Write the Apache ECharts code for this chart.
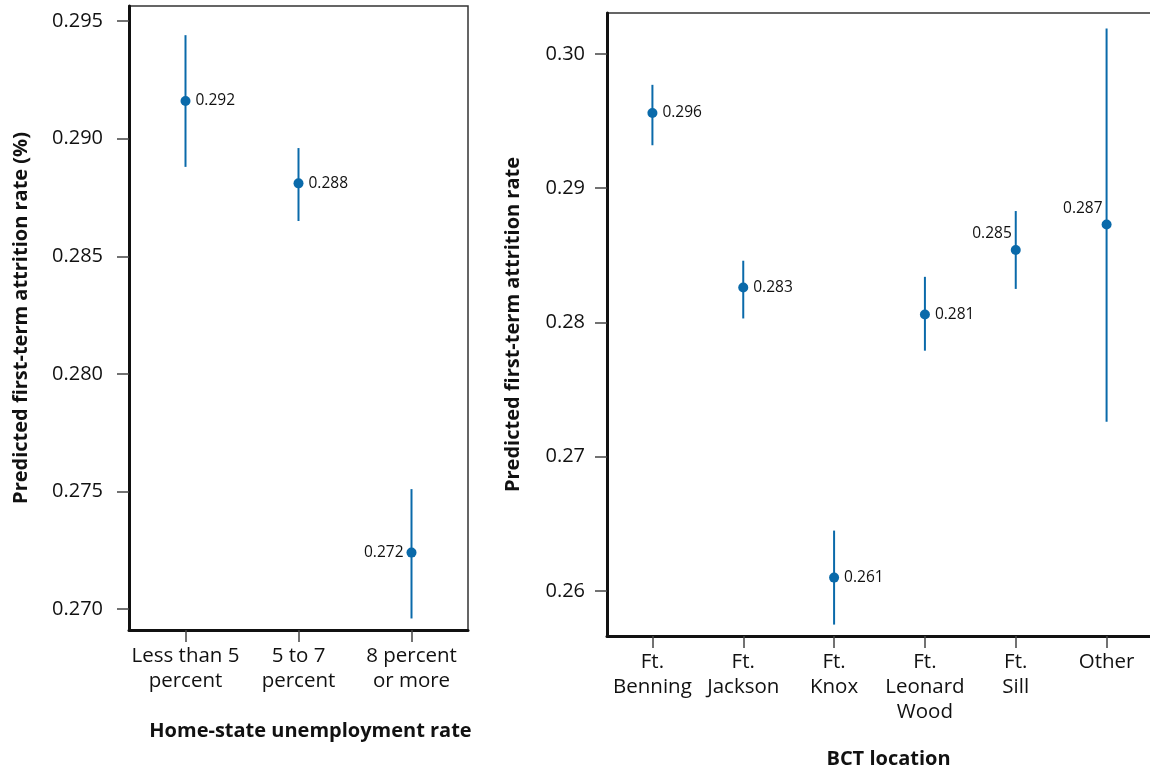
<!DOCTYPE html>
<html>
<head>
<meta charset="utf-8">
<script src="https://cdn.jsdelivr.net/npm/echarts@6/dist/echarts.min.js"></script>
<style>
  html, body { margin: 0; padding: 0; background: #fff; }
  #chart { width: 1150px; height: 773px; }
</style>
</head>
<body>
<div id="chart"></div>
<script>
// left panel: home-state unemployment rate
let leftCats = ['Less than 5\npercent', '5 to 7\npercent', '8 percent\nor more'];
let leftEst = [0.2916, 0.2881, 0.2724];
let leftLow = [0.2888, 0.2865, 0.2696];
let leftHigh = [0.2944, 0.2896, 0.2751];
let leftSide = ['right', 'right', 'left'];
let leftTicks = [0.270, 0.275, 0.280, 0.285, 0.290, 0.295];

// right panel: BCT location
let rightCats = ['Ft.\nBenning', 'Ft.\nJackson', 'Ft.\nKnox', 'Ft.\nLeonard\nWood', 'Ft.\nSill', 'Other'];
let rightEst = [0.2956, 0.2826, 0.2610, 0.2806, 0.2854, 0.2873];
let rightLow = [0.2932, 0.2803, 0.2575, 0.2779, 0.2825, 0.2726];
let rightHigh = [0.2977, 0.2846, 0.2645, 0.2834, 0.2883, 0.3019];
let rightSide = ['right', 'right', 'right', 'right', 'upleft', 'upleft'];
let rightTicks = [0.26, 0.27, 0.28, 0.29, 0.30];

let blue = '#0a6aaa';
let font = 'Open Sans';
let ink = '#111';

function errorBars(low, high, axisIdx){
  return {
    type: 'custom',
    xAxisIndex: axisIdx,
    yAxisIndex: axisIdx,
    data: low.map(function(v, i){ return [i, v, high[i]]; }),
    renderItem: function(params, api){
      let p1 = api.coord([api.value(0), api.value(1)]);
      let p2 = api.coord([api.value(0), api.value(2)]);
      return {
        type: 'line',
        shape: {x1: p1[0], y1: p1[1], x2: p2[0], y2: p2[1]},
        style: {stroke: blue, lineWidth: 2}
      };
    },
    z: 2
  };
}

function points(est, side, axisIdx){
  return {
    type: 'scatter',
    xAxisIndex: axisIdx,
    yAxisIndex: axisIdx,
    symbolSize: 10,
    itemStyle: {color: blue, opacity: 1},
    z: 3,
    data: est.map(function(v, i){
      let lbl = {show: true, formatter: v.toFixed(3), fontFamily: font, fontSize: 15.5, color: ink};
      if(side[i] == 'right'){
        lbl.position = 'right';
        lbl.distance = 5;
      } else if(side[i] == 'left'){
        lbl.position = 'left';
        lbl.distance = 3;
      } else {
        lbl.position = 'left';
        lbl.distance = 0;
        lbl.offset = [1, -16];
      }
      return {value: [i, v], label: lbl};
    })
  };
}

function yAxisDef(idx, min, max, ticks, digits, name, gap, margin){
  return {
    type: 'value',
    gridIndex: idx,
    min: min,
    max: max,
    name: name,
    nameLocation: 'middle',
    nameGap: gap,
    nameTextStyle: {fontFamily: font, fontSize: 20, fontWeight: 'bold', color: ink},
    splitLine: {show: false},
    axisLine: {show: true, lineStyle: {color: '#111', width: 3}},
    axisTick: {show: true, length: 12, customValues: ticks, lineStyle: {color: '#444', width: 1.5}},
    axisLabel: {
      customValues: ticks,
      margin: margin,
      fontFamily: font,
      fontSize: 20,
      color: ink,
      formatter: function(v){ return v.toFixed(digits); }
    }
  };
}

function xAxisDef(idx, cats, name, gap, shift){
  return {
    type: 'category',
    gridIndex: idx,
    data: cats,
    name: name,
    nameLocation: 'middle',
    nameGap: gap,
    nameTextStyle: {fontFamily: font, fontSize: 20, fontWeight: 'bold', color: ink, padding: [0, 0, 0, shift]},
    axisLine: {show: true, lineStyle: {color: '#111', width: 3}},
    axisTick: {show: true, alignWithLabel: true, interval: 0, length: 12, lineStyle: {color: '#444', width: 1.5}},
    axisLabel: {interval: 0, margin: 14, fontFamily: font, fontSize: 20.5, lineHeight: 25, color: ink}
  };
}

let myChart = echarts.init(document.getElementById('chart'));
let options = {
  animation: false,
  backgroundColor: '#fff',
  grid: [
    {left: 129, top: 6, width: 339, bottom: 143, outerBoundsMode: 'none', show: true, borderColor: '#333', borderWidth: 1.5},
    {left: 607, top: 13, width: 545, bottom: 137, outerBoundsMode: 'none', show: true, borderColor: '#333', borderWidth: 1.5}
  ],
  xAxis: [
    xAxisDef(0, leftCats, 'Home-state unemployment rate', 91, 24),
    xAxisDef(1, rightCats, 'BCT location', 113, 18)
  ],
  yAxis: [
    yAxisDef(0, 0.26911, 0.29564, leftTicks, 3, 'Predicted first-term attrition rate (%)', 98, 26),
    yAxisDef(1, 0.25665, 0.30305, rightTicks, 2, 'Predicted first-term attrition rate', 84, 22)
  ],
  series: [
    errorBars(leftLow, leftHigh, 0),
    points(leftEst, leftSide, 0),
    errorBars(rightLow, rightHigh, 1),
    points(rightEst, rightSide, 1)
  ]
};
myChart.setOption(options);
</script>
</body>
</html>
